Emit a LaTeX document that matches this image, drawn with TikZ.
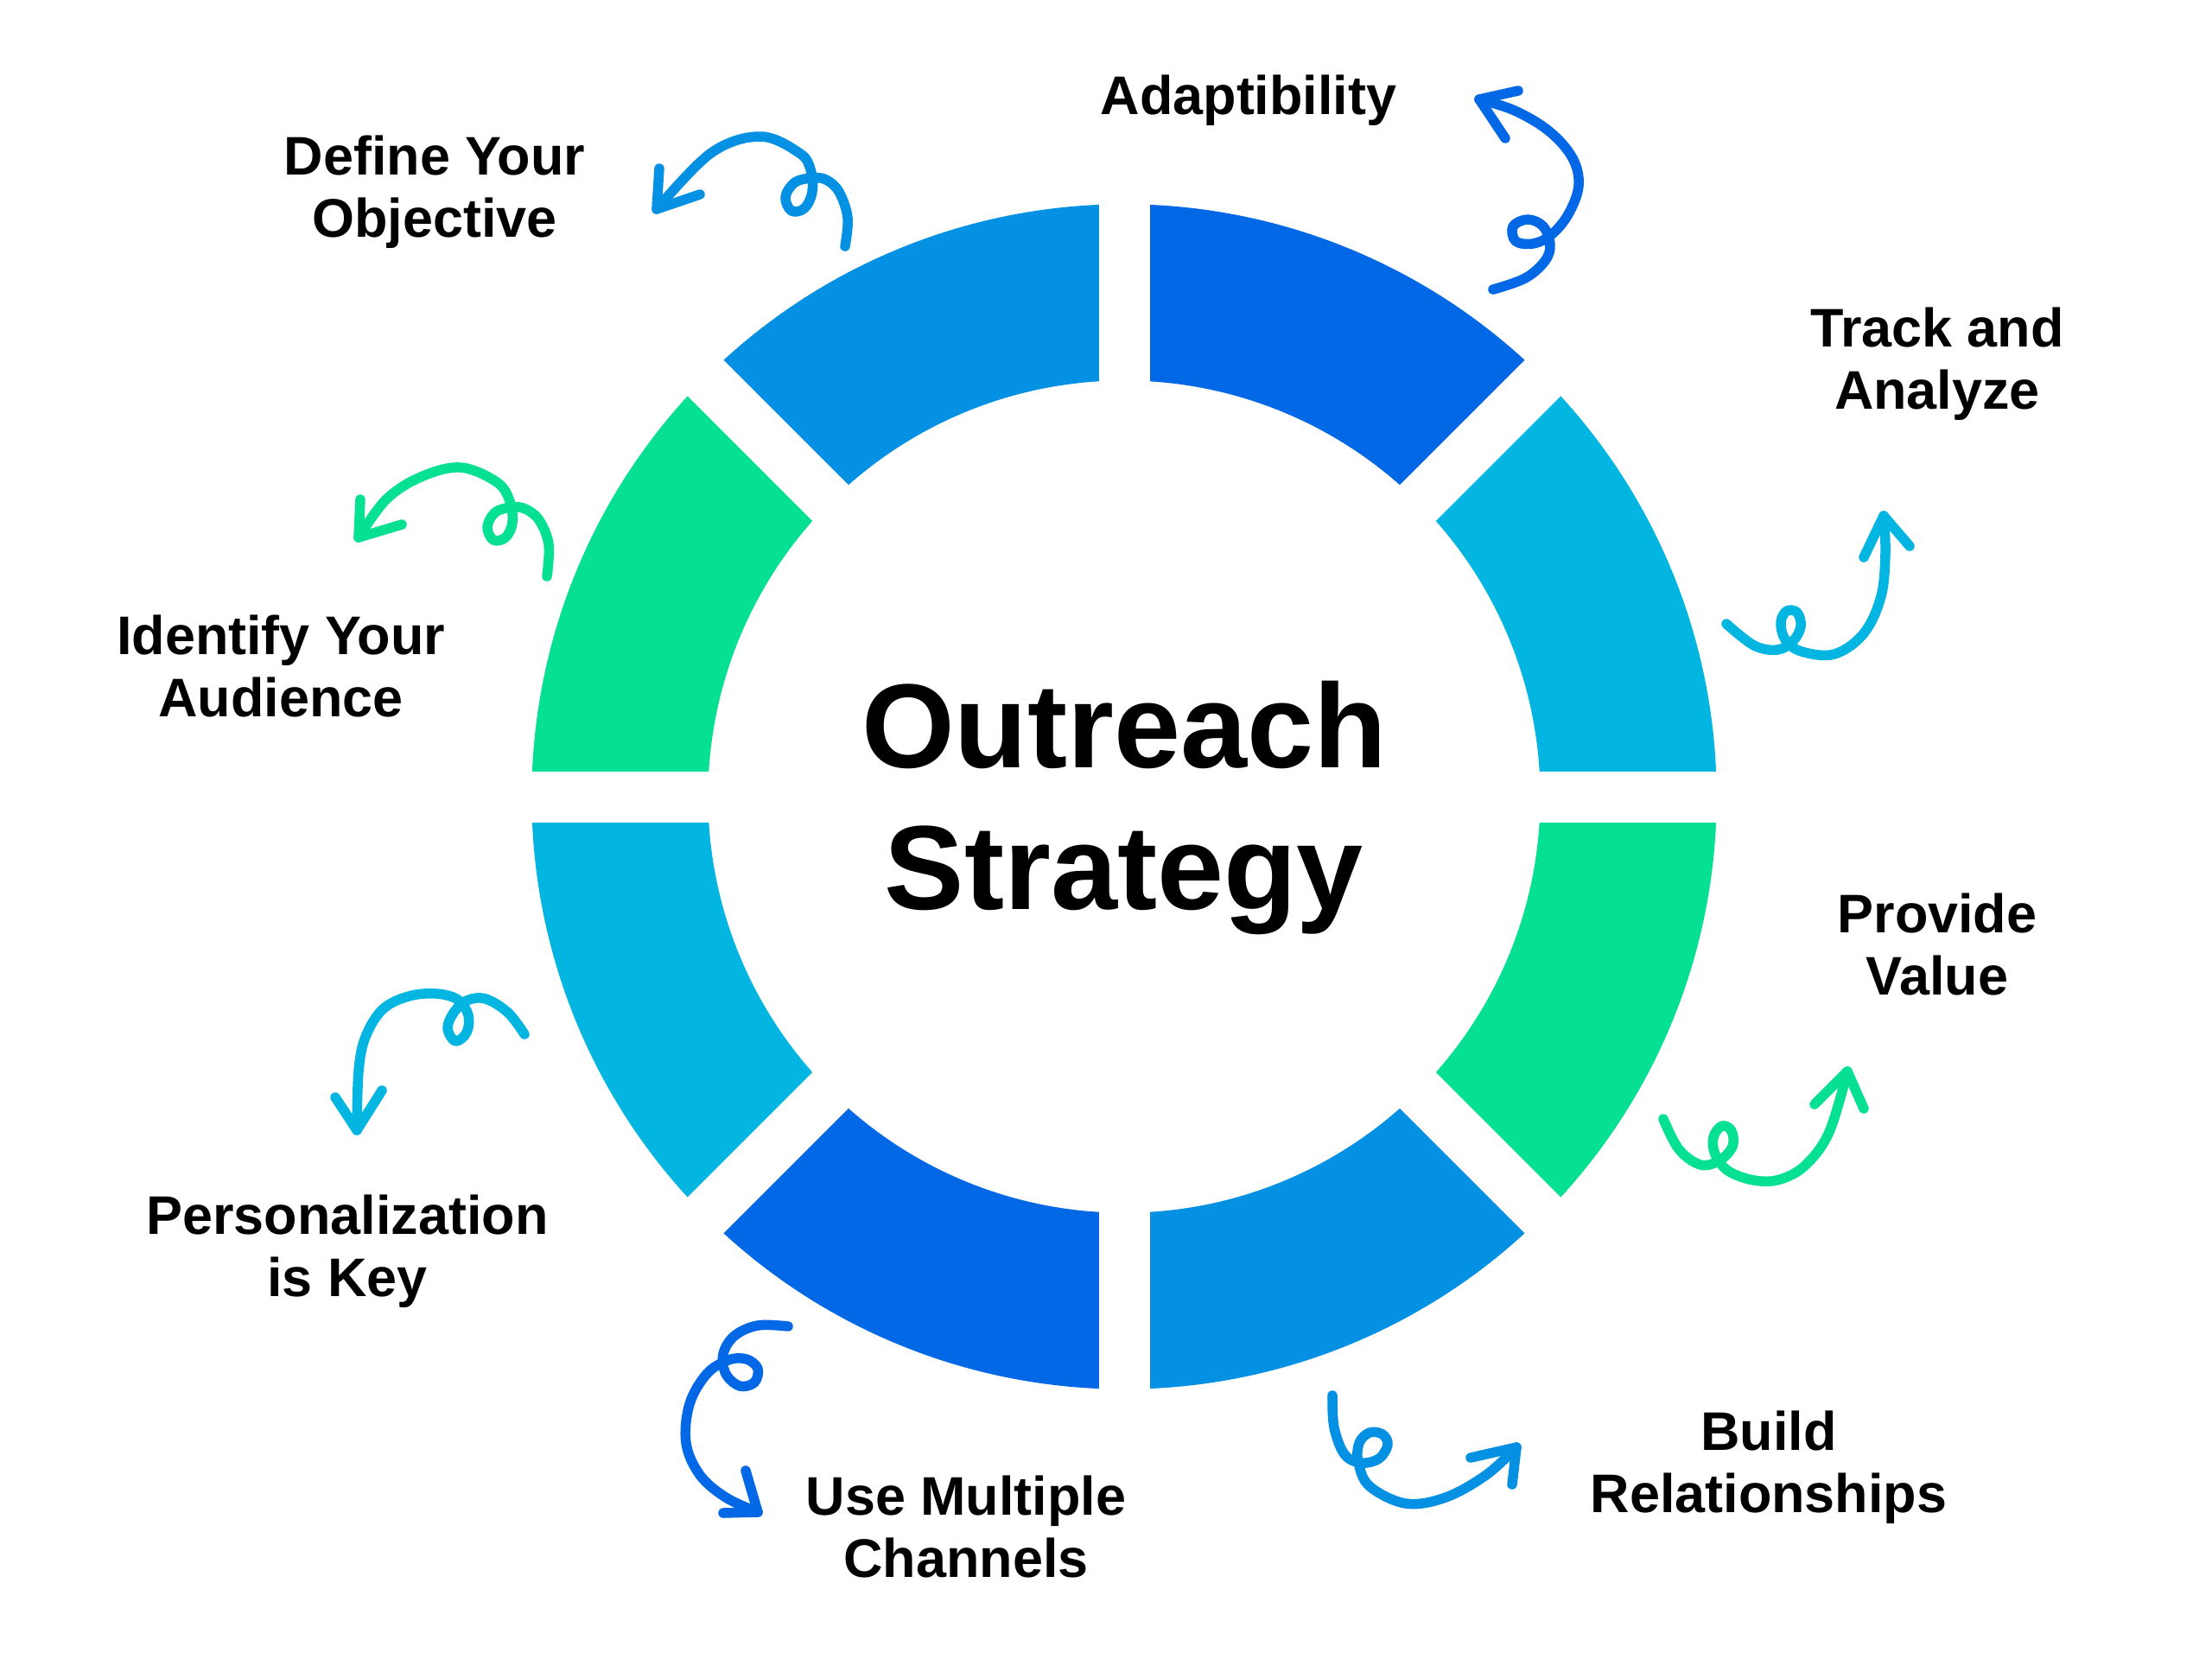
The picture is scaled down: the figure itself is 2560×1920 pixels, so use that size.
\documentclass[tikz,border=0pt]{standalone}
\usepackage{fontspec}
\setmainfont{Liberation Sans}
\usepackage{xcolor}
\usepackage{tikz}
\usetikzlibrary{calc}

\definecolor{ringdark}{HTML}{0268E6}
\definecolor{ringmid}{HTML}{0591E3}
\definecolor{ringcyan}{HTML}{03B6E2}
\definecolor{ringgreen}{HTML}{05E093}

\tikzstyle{title} = [inner sep=0pt, align=center, font=\fontsize{39.4}{46.4}\selectfont\bfseries]
\tikzstyle{lbl} = [inner sep=0pt, align=center, font=\fontsize{17.9}{20.6}\selectfont\bfseries]
\tikzstyle{curl} = [line width=1.15mm, line cap=round, line join=round]

\begin{document}
\begin{tikzpicture}[x=0.1mm, y=-0.1mm]

\fill[white] (0,0) rectangle (2560,1920);
\useasboundingbox (0,0) rectangle (2560,1920);

% ring of eight segments
\coordinate (c) at (1301,922);
\foreach \a/\col in {0/ringcyan,45/ringdark,90/ringmid,135/ringgreen,180/ringcyan,225/ringdark,270/ringmid,315/ringgreen}
  \fill[\col] ($(c)+(\a:68.57mm)$) arc[start angle=\a, end angle=\a+45, radius=68.57mm]
    -- ($(c)+(\a+45:48.16mm)$) arc[start angle=\a+45, end angle=\a, radius=48.16mm] -- cycle;

% gaps between segments
\foreach \a in {0,45,90,135}
  \draw[white, line width=5.9mm] ($(c)+(\a:72mm)$) -- ($(c)+(\a+180:72mm)$);

% centre title
\node[title] (title) at (1301,935) {Outreach\\Strategy};

% labels, clockwise from the top
\node[lbl] (adapt) at (1445,116) {Adaptibility};
\node[lbl] (track) at (2242,421) {Track and\\Analyze};
\node[lbl] (value) at (2242,1093) {Provide\\Value};
\node[lbl] (relation) at (2047,1698) {Build\\Relationships};
\node[lbl] (channels) at (1118,1767) {Use Multiple\\Channels};
\node[lbl] (personal) at (402,1448) {Personalization\\is Key};
\node[lbl] (audience) at (325,771) {Identify Your\\Audience};
\node[lbl] (objective) at (503,222) {Define Your\\Objective};

% curly arrows
\draw[curl, ringmid] plot[smooth, tension=0.6] coordinates {(978,285) (981,252) (971,222) (956,208) (940,206) (920,211) (909,228) (916,244) (931,241) (940,222) (938,196) (925,177) (880,158) (823,177) (760,242)};
\draw[curl, ringmid] (763,195) -- (760,242) -- (810,225);

\draw[curl, ringdark] plot[smooth, tension=0.6] coordinates {(1728,335) (1765,322) (1788,302) (1794,283) (1786,262) (1768,254) (1751,262) (1754,279) (1774,282) (1795,272) (1815,248) (1827,215) (1820,183) (1793,152) (1753,128) (1712,115)};
\draw[curl, ringdark] (1757,105) -- (1712,115) -- (1742,160);

\draw[curl, ringcyan] plot[smooth, tension=0.6] coordinates {(1998,722) (2030,747) (2057,752) (2075,742) (2084,725) (2080,709) (2068,707) (2061,720) (2066,740) (2085,754) (2123,757) (2157,733) (2177,690) (2182,640) (2180,597)};
\draw[curl, ringcyan] (2157,645) -- (2180,597) -- (2210,632);

\draw[curl, ringgreen] plot[smooth, tension=0.6] coordinates {(1925,1295) (1943,1330) (1968,1348) (1990,1343) (2005,1327) (2004,1309) (1993,1303) (1983,1316) (1985,1336) (2000,1355) (2030,1366) (2060,1365) (2090,1348) (2117,1310) (2138,1240)};
\draw[curl, ringgreen] (2100,1278) -- (2138,1240) -- (2157,1283);

\draw[curl, ringmid] plot[smooth, tension=0.6] coordinates {(1542,1615) (1544,1652) (1556,1683) (1575,1693) (1596,1688) (1606,1672) (1600,1660) (1585,1658) (1573,1670) (1572,1692) (1585,1720) (1627,1740) (1673,1733) (1720,1707) (1755,1675)};
\draw[curl, ringmid] (1702,1687) -- (1755,1675) -- (1750,1718);

\draw[curl, ringdark] plot[smooth, tension=0.6] coordinates {(912,1535) (877,1534) (850,1546) (837,1567) (840,1590) (856,1604) (873,1600) (877,1584) (864,1573) (843,1574) (818,1590) (798,1625) (794,1670) (810,1707) (840,1733) (877,1750)};
\draw[curl, ringdark] (837,1751) -- (877,1750) -- (863,1702);

\draw[curl, ringcyan] plot[smooth, tension=0.6] coordinates {(607,1197) (588,1172) (562,1156) (540,1158) (525,1172) (518,1190) (527,1205) (540,1195) (542,1175) (530,1157) (505,1150) (473,1153) (443,1168) (423,1200) (415,1240) (413,1308)};
\draw[curl, ringcyan] (388,1270) -- (413,1308) -- (442,1262);

\draw[curl, ringgreen] plot[smooth, tension=0.6] coordinates {(633,667) (635,630) (624,602) (608,589) (592,587) (573,593) (564,610) (571,625) (585,622) (593,605) (590,580) (575,558) (533,541) (487,552) (447,578) (415,622)};
\draw[curl, ringgreen] (417,578) -- (415,622) -- (465,607);

\end{tikzpicture}
\end{document}
